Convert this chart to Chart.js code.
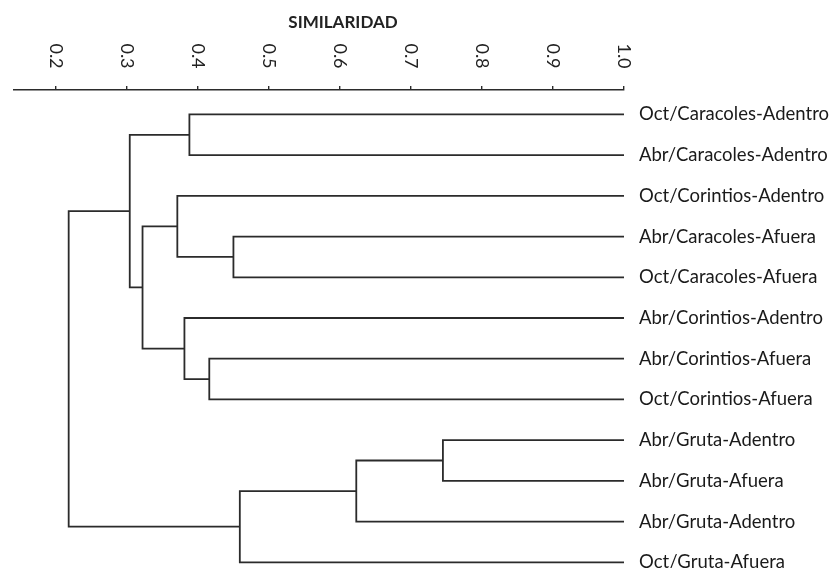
<!DOCTYPE html>
<html>
<head>
<meta charset="utf-8">
<title>Dendrograma de similaridad</title>
<script src="https://cdn.jsdelivr.net/npm/chart.js@4.4.1/dist/chart.umd.min.js"></script>
<style>
    html, body { margin: 0; padding: 0; background: #fff; }
    #wrap { width: 839px; height: 568px; }
</style>
</head>
<body>
<div id="wrap"><canvas id="dendro" width="839" height="568"></canvas></div>
<script>
// leaves, top to bottom
const leafLabels = [
    'Oct/Caracoles-Adentro',
    'Abr/Caracoles-Adentro',
    'Oct/Corintios-Adentro',
    'Abr/Caracoles-Afuera',
    'Oct/Caracoles-Afuera',
    'Abr/Corintios-Adentro',
    'Abr/Corintios-Afuera',
    'Oct/Corintios-Afuera',
    'Abr/Gruta-Adentro',
    'Abr/Gruta-Afuera',
    'Abr/Gruta-Adentro',
    'Oct/Gruta-Afuera',
];

// merges, linkage style: node ids 0-11 are leaves, merge k creates node 12 + k
const mergeLeft = [0, 3, 2, 6, 5, 14, 12, 8, 19, 20, 18];
const mergeRight = [1, 4, 13, 7, 15, 16, 17, 9, 10, 11, 21];
const mergeSimilarity = [0.388, 0.450, 0.371, 0.416, 0.381, 0.322, 0.304, 0.745, 0.623, 0.459, 0.218];

const tickValues = [0.2, 0.3, 0.4, 0.5, 0.6, 0.7, 0.8, 0.9, 1.0];
const axisTitle = 'SIMILARIDAD';

const LINE = '#2b2b2b';
const FONT = 'Lato, "Open Sans", sans-serif';

/**
 * Turn the merge list into one U-shaped line per merge.
 * A leaf sits at similarity 1.0, a node at its merge similarity;
 * the vertical position of a node is the mean of its two children.
 */
function buildLinks() {
    const nodeX = leafLabels.map(() => 1.0);
    const nodeY = leafLabels.map((_, i) => i);
    const links = [];
    mergeLeft.forEach((a, k) => {
        const b = mergeRight[k];
        const s = mergeSimilarity[k];
        links.push([
            { x: nodeX[a], y: nodeY[a] },
            { x: s, y: nodeY[a] },
            { x: s, y: nodeY[b] },
            { x: nodeX[b], y: nodeY[b] },
        ]);
        nodeX.push(s);
        nodeY.push((nodeY[a] + nodeY[b]) / 2);
    });
    return links;
}

// rotated tick labels and the axis title above the top axis
const topAxisText = {
    id: 'topAxisText',
    afterDraw(chart) {
        const ctx = chart.ctx;
        const xs = chart.scales.x;
        ctx.save();
        ctx.fillStyle = '#222';
        ctx.font = '18px ' + FONT;
        ctx.textAlign = 'center';
        ctx.textBaseline = 'middle';
        tickValues.forEach((v) => {
            ctx.save();
            ctx.translate(xs.getPixelForValue(v), 56);
            ctx.rotate(Math.PI / 2);
            ctx.fillText(v.toFixed(1), 0, 0);
            ctx.restore();
        });
        ctx.font = 'bold 17px ' + FONT;
        ctx.fillText(axisTitle, 343, 23);
        ctx.restore();
    },
};

function init() {
    const datasets = buildLinks().map((pts) => ({
        data: pts,
        showLine: true,
        borderColor: LINE,
        borderWidth: 1.8,
        pointRadius: 0,
        tension: 0,
        fill: false,
    }));

    new Chart(document.getElementById('dendro'), {
        type: 'scatter',
        data: { datasets: datasets },
        options: {
            responsive: false,
            animation: false,
            events: [],
            layout: { padding: { left: 14, top: 0, right: 0, bottom: 0 } },
            plugins: {
                legend: { display: false },
                tooltip: { enabled: false },
            },
            scales: {
                x: {
                    type: 'linear',
                    position: 'top',
                    min: 0.141,
                    max: 1.0,
                    afterBuildTicks: (scale) => {
                        scale.ticks = tickValues.map((v) => ({ value: v }));
                    },
                    afterFit: (scale) => {
                        scale.height = 90;
                        scale.paddingLeft = 0;
                        scale.paddingRight = 0;
                    },
                    ticks: { display: false },
                    grid: {
                        drawOnChartArea: false,
                        tickLength: 4,
                        color: LINE,
                        lineWidth: 1.4,
                    },
                    border: { color: LINE, width: 1.6 },
                },
                y: {
                    type: 'linear',
                    position: 'right',
                    reverse: true,
                    min: -0.6,
                    max: 11.14,
                    afterBuildTicks: (scale) => {
                        scale.ticks = leafLabels.map((_, i) => ({ value: i }));
                    },
                    afterFit: (scale) => {
                        scale.width = 215;
                        scale.paddingTop = 0;
                        scale.paddingBottom = 0;
                    },
                    ticks: {
                        autoSkip: false,
                        padding: 15,
                        color: '#1a1a1a',
                        font: { family: FONT, size: 18.5 },
                        callback: (v) => leafLabels[v],
                    },
                    grid: { display: false, drawTicks: false },
                    border: { display: false },
                },
            },
        },
        plugins: [topAxisText],
    });
}

document.addEventListener('DOMContentLoaded', init);
</script>
</body>
</html>
